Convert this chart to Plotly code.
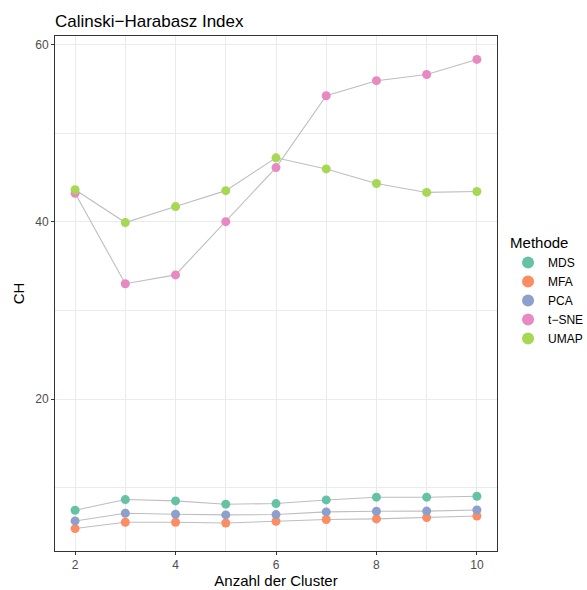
import plotly.graph_objects as go

clusters = [2, 3, 4, 5, 6, 7, 8, 9, 10]
methods = ["MDS", "MFA", "PCA", "t\u2212SNE", "UMAP"]
ch_mds = [7.46, 8.66, 8.51, 8.14, 8.21, 8.62, 8.93, 8.93, 9.04]
ch_mfa = [5.39, 6.10, 6.10, 6.02, 6.21, 6.41, 6.48, 6.63, 6.81]
ch_pca = [6.25, 7.12, 7.00, 6.93, 6.97, 7.27, 7.34, 7.36, 7.49]
ch_tsne = [43.2, 33.0, 34.0, 40.0, 46.1, 54.2, 55.9, 56.6, 58.3]
ch_umap = [43.6, 39.9, 41.7, 43.5, 47.2, 45.95, 44.3, 43.3, 43.4]
colors = ["#66C2A5", "#FC8D62", "#8DA0CB", "#E78AC3", "#A6D854"]

series = [ch_mds, ch_mfa, ch_pca, ch_tsne, ch_umap]

fig = go.Figure()
# grey connecting lines
for vals in series:
    fig.add_trace(go.Scatter(x=clusters, y=vals, mode="lines",
                             line=dict(color="#BEBEBE", width=1.1),
                             showlegend=False, hoverinfo="skip"))
for name, vals, col in zip(methods, series, colors):
    fig.add_trace(go.Scatter(x=clusters, y=vals, mode="markers", name=name,
                             marker=dict(color=col, size=9)))

grid = "#EBEBEB"
axis_common = dict(
    showline=True, linecolor="#333333", linewidth=1, mirror=True,
    ticks="outside", ticklen=3, tickcolor="#333333", tickwidth=1,
    tickfont=dict(size=12, color="#4D4D4D"),
    showgrid=True, gridcolor=grid, gridwidth=1, zeroline=False,
    automargin=False,
)
fig.update_layout(
    width=587, height=590,
    margin=dict(l=55, r=90, t=36, b=39, autoexpand=False),
    paper_bgcolor="white", plot_bgcolor="white",
    font=dict(family="Liberation Sans, Arial, sans-serif", color="black"),
    title=dict(text="Calinski\u2212Harabasz Index", x=0, xref="paper",
               xanchor="left", y=0.965, yanchor="middle",
               font=dict(size=17, color="black")),
    xaxis=dict(range=[1.6, 10.4], tickvals=[2, 4, 6, 8, 10],
               title=dict(text="Anzahl der Cluster", font=dict(size=15), standoff=2),
               minor=dict(tickvals=[3, 5, 7, 9], showgrid=True, gridcolor=grid,
                          gridwidth=0.5, ticks=""),
               **axis_common),
    yaxis=dict(range=[2.86, 60.94], tickvals=[20, 40, 60],
               title=dict(text="CH", font=dict(size=15), standoff=6),
               minor=dict(tickvals=[10, 30, 50], showgrid=True, gridcolor=grid,
                          gridwidth=0.5, ticks=""),
               **axis_common),
    legend=dict(x=1.025, y=0.505, xanchor="left", yanchor="middle",
                title=dict(text="Methode", font=dict(size=15)),
                font=dict(size=12), itemsizing="constant", itemwidth=30,
                tracegroupgap=0),
)
fig.write_html("out.html")
